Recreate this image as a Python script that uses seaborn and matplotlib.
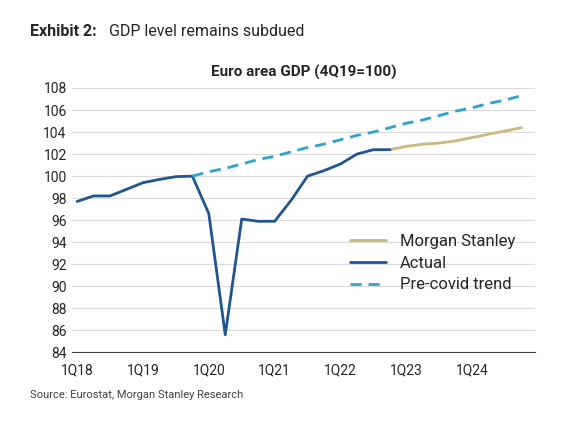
import matplotlib
matplotlib.use('Agg')
import matplotlib.pyplot as plt
import seaborn as sns
import pandas as pd

sns.set_style('white')
plt.rcParams['font.family'] = ['Roboto', 'DejaVu Sans']

quarters = [f"{q}Q{y}" for y in range(18, 25) for q in range(1, 5)]
actual = [97.7, 98.2, 98.2, 98.8, 99.4, 99.7, 99.95, 100.0,
          96.6, 85.6, 96.1, 95.9, 95.9, 97.8, 100.0, 100.5,
          101.1, 102.0, 102.4, 102.4]
ms_fc = [102.4, 102.7, 102.9, 103.0, 103.2, 103.5, 103.8, 104.1, 104.4]
trend = [100.0, 100.4, 100.7, 101.1, 101.5, 101.8, 102.2, 102.6, 102.9, 103.3,
         103.7, 104.0, 104.4, 104.8, 105.1, 105.5, 105.9, 106.2, 106.6, 106.9, 107.3]

idx = {q: i for i, q in enumerate(quarters)}
df_act = pd.DataFrame({'x': range(len(actual)), 'y': actual})
df_ms = pd.DataFrame({'x': range(19, 19 + len(ms_fc)), 'y': ms_fc})
df_tr = pd.DataFrame({'x': range(7, 7 + len(trend)), 'y': trend})

fig = plt.figure(figsize=(5.64, 4.21), dpi=100)
ax = fig.add_axes([0.128, 0.163, 0.82, 0.628])

sns.lineplot(data=df_ms, x='x', y='y', ax=ax, color='#c9b97c', lw=2, label='Morgan Stanley')
sns.lineplot(data=df_act, x='x', y='y', ax=ax, color='#1d5690', lw=2, label='Actual')
sns.lineplot(data=df_tr, x='x', y='y', ax=ax, color='#2aa3d3', lw=2, ls=(0, (4, 2.5)),
             label='Pre-covid trend')

ax.set_xlim(-0.3, 27.8)
ax.set_ylim(84, 108)
ax.set_yticks(range(84, 109, 2))
ax.set_xticks([idx[f"1Q{y}"] for y in range(18, 25)])
ax.set_xticklabels([f"1Q{y}" for y in range(18, 25)])
ax.set_xlabel('')
ax.set_ylabel('')
ax.grid(axis='y', color='#d9d9d9', lw=0.8)
ax.set_axisbelow(True)
for s in ['top', 'right', 'left']:
    ax.spines[s].set_visible(False)
ax.spines['bottom'].set_color('#404040')
ax.tick_params(axis='both', labelsize=10, length=0, pad=4)
ax.tick_params(axis='x', direction='out', length=4, color='#404040')
ax.set_title('Euro area GDP (4Q19=100)', fontsize=11, fontweight='bold', pad=8)

ax.legend(loc='lower right', bbox_to_anchor=(0.99, 0.17), frameon=False, fontsize=12,
          handlelength=2.2, labelspacing=0.4, facecolor='white')

fig.text(0.053, 0.915, 'Exhibit 2:', fontsize=11.5, fontweight='bold')
fig.text(0.193, 0.915, 'GDP level remains subdued', fontsize=11.5)
fig.text(0.053, 0.055, 'Source: Eurostat, Morgan Stanley Research', fontsize=8, color='#404040')

plt.savefig('out.png', dpi=100)
